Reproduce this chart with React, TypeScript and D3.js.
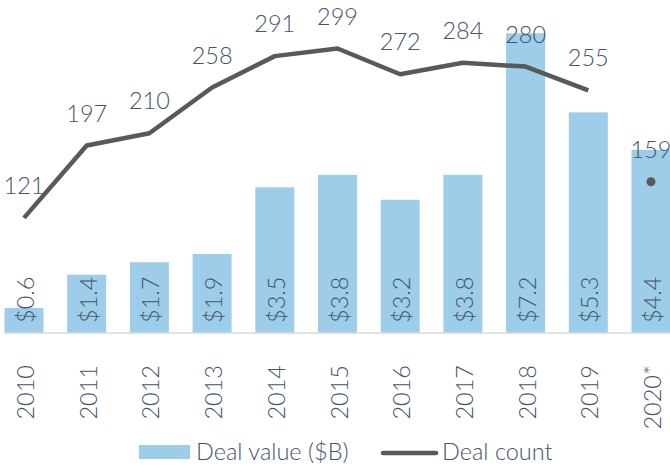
import React from "react";
import * as d3 from "d3";

const years = ["2010", "2011", "2012", "2013", "2014", "2015", "2016", "2017", "2018", "2019", "2020*"];
const dealValue = [0.6, 1.4, 1.7, 1.9, 3.5, 3.8, 3.2, 3.8, 7.2, 5.3, 4.4];
const dealValueLabels = ["$0.6", "$1.4", "$1.7", "$1.9", "$3.5", "$3.8", "$3.2", "$3.8", "$7.2", "$5.3", "$4.4"];
const dealCount = [121, 197, 210, 258, 291, 299, 272, 284, 280, 255, 159];
const legendLabels = ["Deal value ($B)", "Deal count"];

const W = 670;
const H = 468;
const BAR = "#9ecde9";
const LINE = "#595959";
const TEXT = "#44546a";
const FONT = "Lato, 'Open Sans', sans-serif";
const FS = 23.5;

export default function App() {
  const x = d3.scalePoint<string>().domain(years).range([24, 651]);
  const yVal = d3.scaleLinear().domain([0, 8]).range([333, 0]);
  const yCnt = d3.scaleLinear().domain([0, 350]).range([333, 0]);
  const barW = 39;
  const base = yVal(0);

  const lineData = years.slice(0, 10).map((y, i) => ({ y, v: dealCount[i] }));
  const lineGen = d3
    .line<{ y: string; v: number }>()
    .x((d) => x(d.y)!)
    .y((d) => yCnt(d.v));

  return (
    <svg
      width={W}
      height={H}
      style={{ position: "absolute", left: 0, top: 0, background: "#fff" }}
      fontFamily={FONT}
      fontWeight={300}
    >
      {years.map((yr, i) => (
        <rect
          key={"b" + yr}
          x={x(yr)! - barW / 2}
          y={yVal(dealValue[i])}
          width={barW}
          height={base - yVal(dealValue[i])}
          fill={BAR}
        />
      ))}
      <line x1={5} x2={670} y1={base} y2={base} stroke="#d9d9d9" strokeWidth={1.5} />
      {years.map((yr, i) => (
        <text
          key={"bl" + yr}
          transform={`translate(${x(yr)! + 1},${base - 10}) rotate(-90)`}
          textAnchor="start"
          dominantBaseline="central"
          fontSize={FS}
          fill={TEXT}
        >
          {dealValueLabels[i]}
        </text>
      ))}
      <path d={lineGen(lineData) || ""} fill="none" stroke={LINE} strokeWidth={4.5} strokeLinejoin="round" />
      <circle cx={x(years[10])!} cy={yCnt(dealCount[10])} r={4.5} fill={LINE} />
      {years.map((yr, i) => (
        <text
          key={"cl" + yr}
          x={x(yr)!}
          y={yCnt(dealCount[i]) - 24}
          textAnchor="middle"
          fontSize={FS}
          fill={TEXT}
        >
          {dealCount[i]}
        </text>
      ))}
      {years.map((yr) => (
        <text
          key={"xl" + yr}
          transform={`translate(${x(yr)! + 1},365) rotate(-90)`}
          textAnchor="end"
          dominantBaseline="central"
          fontSize={FS}
          fill={TEXT}
        >
          {yr}
        </text>
      ))}
      <rect x={139} y={445} width={51} height={14} fill={BAR} />
      <text x={196} y={460} fontSize={FS} fill={TEXT}>
        {legendLabels[0]}
      </text>
      <line x1={383} x2={436} y1={453} y2={453} stroke={LINE} strokeWidth={4.5} strokeLinecap="round" />
      <text x={442} y={460} fontSize={FS} fill={TEXT}>
        {legendLabels[1]}
      </text>
    </svg>
  );
}
